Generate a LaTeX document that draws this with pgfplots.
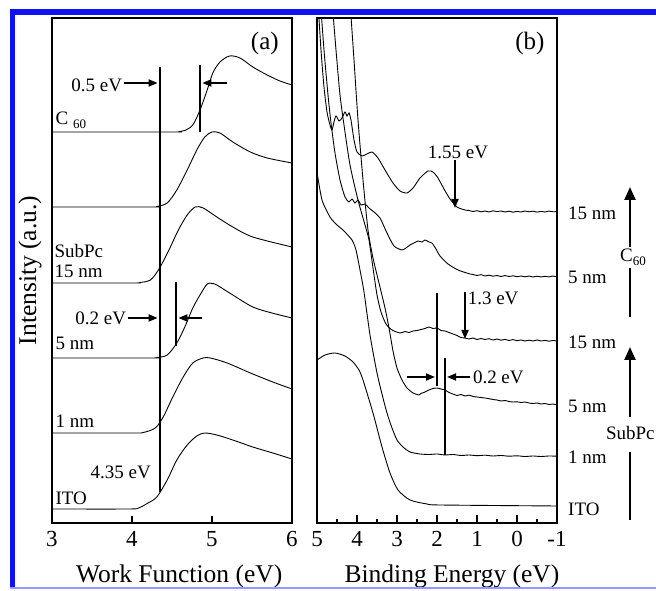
\documentclass[border=0pt]{standalone}
\usepackage{fontspec}
\setmainfont{Liberation Serif}
\usepackage{pgfplots}
\pgfplotsset{compat=1.18}
\usetikzlibrary{arrows.meta}

\newcommand\lbl{\fontsize{19}{21}\selectfont}
\newcommand\tik{\fontsize{23}{25}\selectfont}
\newcommand\axl{\fontsize{25.5}{28}\selectfont}
\newcommand\pnl{\fontsize{25}{27}\selectfont}
\definecolor{frameblue}{RGB}{16,16,245}
\definecolor{framelight}{RGB}{150,150,255}

\tikzset{
  ann/.style={-{Triangle[length=9pt,width=7pt]}, line width=1.8pt},
  mark line/.style={line width=2.6pt},
  bigarrow/.style={-{Triangle[length=13pt,width=11pt]}, line width=2.4pt},
}

\pgfplotsset{
  panel/.style={
    scale only axis, width=240pt, height=505pt,
    ymin=0, ymax=505, ytick=\empty,
    axis line style={line width=2.2pt},
    xtick pos=left, tick align=inside,
    major tick length=7pt, minor tick length=4pt,
    tick style={black, line width=1.4pt},
    /pgf/number format/assume math mode=true,
    xticklabel style={font=\tik, yshift=-5pt},
    clip mode=individual,
    every axis plot/.append style={black, line width=0.9pt, no markers},
  },
}

\begin{document}
\begin{tikzpicture}
\path[use as bounding box] (0pt,0pt) rectangle (656pt,591pt);
\clip (0pt,0pt) rectangle (656pt,591pt);

% ---------------- (a) work function spectra ----------------
\begin{axis}[panel, at={(52pt,68pt)}, anchor=south west,
  xmin=3, xmax=6, xtick={3,4,5,6},
  xlabel={Work Function (eV)},
  xlabel style={font=\axl, at={(axis description cs:0.53,-0.117)}, anchor=base},
  ylabel={Intensity (a.u.)},
  ylabel style={font=\axl, at={(axis description cs:-0.092,0.5)}, anchor=center}]

% C60 15 nm
\addplot[smooth, tension=0.5] coordinates {
(3,391) (4.5,391) (4.6,391.5) (4.66,392.5) (4.76,398) (4.85,413) (4.94,433)
(5.01,450) (5.10,461) (5.22,467) (5.35,465) (5.51,456) (5.69,448) (5.85,442) (6.00,438)};
% C60 5 nm
\addplot[smooth, tension=0.5] coordinates {
(3,316) (4.2,316) (4.31,316.5) (4.44,320) (4.56,333) (4.69,353) (4.81,373)
(4.91,386) (5.00,391) (5.10,390) (5.26,381) (5.48,371) (5.69,365) (6.00,360)};
% SubPc 15 nm
\addplot[smooth, tension=0.5] coordinates {
(3,240) (4.0,240) (4.10,240.5) (4.23,243) (4.33,253) (4.45,271) (4.58,293)
(4.69,308) (4.79,316) (4.89,315) (5.06,306) (5.26,296) (5.51,286) (6.00,276)};
% SubPc 5 nm
\addplot[smooth, tension=0.5] coordinates {
(3,165) (4.2,165) (4.31,165.5) (4.44,168) (4.56,180) (4.66,196) (4.76,215)
(4.85,228) (4.94,239) (5.0,239.5) (5.06,238) (5.26,228) (5.51,216) (5.75,210) (6.00,205)};
% SubPc 1 nm
\addplot[smooth, tension=0.5] coordinates {
(3,90) (4.0,90) (4.14,90.5) (4.29,95) (4.39,106) (4.51,126) (4.64,146)
(4.76,160) (4.89,165) (4.98,165) (5.19,160) (5.48,150) (5.76,141) (6.00,134)};
% ITO
\addplot[smooth, tension=0.5] coordinates {
(3,14) (3.95,14) (4.08,15) (4.20,20) (4.31,26) (4.44,43) (4.56,63) (4.69,78)
(4.81,87) (4.91,90) (5.06,88) (5.26,83) (5.51,76) (5.76,70) (6.00,64)};

% work-function markers
\draw[mark line] (axis cs:4.35,456) -- (axis cs:4.35,31);
\draw[mark line] (axis cs:4.85,458) -- (axis cs:4.85,391);
\draw[mark line] (axis cs:4.55,241) -- (axis cs:4.55,177);
\draw[ann] (axis cs:3.90,440) -- (axis cs:4.32,440);
\draw[ann] (axis cs:5.19,440) -- (axis cs:4.88,440);
\draw[ann] (axis cs:3.95,205) -- (axis cs:4.32,205);
\draw[ann] (axis cs:4.88,205) -- (axis cs:4.58,205);

\node[font=\pnl] at (axis cs:5.66,480) {(a)};
\node[font=\lbl, anchor=base east, inner sep=1pt] at (axis cs:3.89,431) {0.5 eV};
\node[font=\lbl, anchor=base east, inner sep=1pt] at (axis cs:3.94,198) {0.2 eV};
\node[font=\lbl, anchor=base west, inner sep=1pt] at (axis cs:3.03,398)
  {C {\fontsize{13}{13}\selectfont\raisebox{-4pt}{60}}};
\node[font=\lbl, anchor=base west, inner sep=0pt] at (axis cs:3.03,265) {SubPc};
\node[font=\lbl, anchor=base west, inner sep=0pt] at (axis cs:3.03,245) {15 nm};
\node[font=\lbl, anchor=base west, inner sep=1pt] at (axis cs:3.03,173) {5 nm};
\node[font=\lbl, anchor=base west, inner sep=1pt] at (axis cs:3.03,95) {1 nm};
\node[font=\lbl, anchor=base west, inner sep=1pt] at (axis cs:3.03,18) {ITO};
\node[font=\lbl, anchor=base east, inner sep=1pt] at (axis cs:4.25,44) {4.35 eV};
\end{axis}

% ---------------- (b) valence band spectra ----------------
\begin{axis}[panel, at={(317pt,68pt)}, anchor=south west,
  xmin=-1, xmax=5, x dir=reverse,
  xtick={5,4,3,2,1,0,-1}, xticklabels={5,4,3,2,1,0,-1},
  minor xtick={4.5,3.5,2.5,1.5,0.5,-0.5},
  major tick length=8pt,
  xlabel={Binding Energy (eV)},
  xlabel style={font=\axl, at={(axis description cs:0.5625,-0.117)}, anchor=base}]

% C60 15 nm
\addplot[smooth, tension=0.4] coordinates {
(4.99,530) (4.9,473) (4.825,436) (4.75,411) (4.675,398) (4.625,393) (4.575,401)
(4.525,407) (4.45,402) (4.375,405) (4.3,411) (4.25,407) (4.2,410) (4.15,403)
(4.075,383) (4.0,371) (3.875,367) (3.75,369) (3.625,371) (3.475,365) (3.3,353)
(3.1,340) (2.925,332) (2.75,330) (2.6,335) (2.425,345) (2.225,352) (2.1,351)
(1.975,345) (1.825,334) (1.675,324) (1.5,316) (1.3,313) (1.2,312.5) (1.1,311.5)
(1.0,312.3) (0.9,311.2) (0.8,312) (0.7,311) (0.6,312.2) (0.5,311.4) (0.4,312)
(0.3,311) (0.2,311.8) (0.1,310.8) (0,311.6) (-0.1,311) (-0.2,312) (-0.3,311.2)
(-0.4,311.8) (-0.5,310.9) (-0.6,311.6) (-0.7,311) (-0.8,311.9) (-0.9,311.2) (-1,311.5)};
% C60 5 nm
\addplot[smooth, tension=0.4] coordinates {
(4.93,530) (4.825,473) (4.725,428) (4.65,400) (4.55,370) (4.425,343) (4.3,326)
(4.2,321) (4.125,324) (4.05,320) (3.975,323) (3.9,318) (3.8,319) (3.7,315)
(3.575,311) (3.425,305) (3.25,290) (3.075,277) (2.875,273) (2.775,275) (2.675,278)
(2.575,280) (2.475,282) (2.375,281) (2.3,283) (2.2,281) (2.125,280) (2.025,274)
(1.925,267) (1.725,259) (1.475,253) (1.175,249) (1.1,248.5) (1.0,247.5) (0.9,248.3)
(0.8,247) (0.7,247.8) (0.6,246.8) (0.5,247.5) (0.4,246.5) (0.3,247.4) (0.2,246.5)
(0.1,247.2) (0,246.3) (-0.1,247) (-0.2,246.2) (-0.3,247) (-0.4,246) (-0.5,246.8)
(-0.6,246) (-0.7,246.7) (-0.8,246.1) (-0.9,247) (-1,246)};
% SubPc 15 nm
\addplot[smooth, tension=0.4] coordinates {
(4.64,530) (4.525,473) (4.425,428) (4.325,398) (4.175,358) (3.975,323) (3.8,298)
(3.7,283) (3.6,255) (3.5,228) (3.4,211) (3.275,199) (3.125,193) (2.925,190)
(2.8,191.5) (2.7,190.5) (2.6,192) (2.5,192.5) (2.4,193.5) (2.3,194.5) (2.2,196)
(2.1,194.5) (2.0,195) (1.9,192.5) (1.8,192) (1.7,190.5) (1.6,189) (1.5,187.5)
(1.4,185.5) (1.3,185) (1.2,184) (1.1,185) (1.0,183.5) (0.9,184.5) (0.8,183.5)
(0.7,184.3) (0.6,183) (0.5,184) (0.4,182.8) (0.3,183.6) (0.2,182.5) (0.1,183.4)
(0,182.3) (-0.1,183) (-0.2,182) (-0.3,182.8) (-0.4,182) (-0.5,183) (-0.6,182)
(-0.7,182.6) (-0.8,181.8) (-0.9,182.5) (-1,182)};
% SubPc 5 nm
\addplot[smooth, tension=0.4] coordinates {
(4.19,530) (4.075,463) (3.975,403) (3.85,343) (3.725,293) (3.6,265) (3.45,240)
(3.3,215) (3.2,195) (3.1,172) (3.0,155) (2.875,143) (2.75,135) (2.6,130)
(2.5,128.5) (2.45,128) (2.4,129.5) (2.3,131) (2.2,133) (2.1,134.5) (2.0,135)
(1.9,134) (1.8,133) (1.7,130.5) (1.6,129) (1.5,127.5) (1.4,128.5) (1.3,127)
(1.2,127.8) (1.1,126.5) (1.0,126) (0.9,125.5) (0.8,125) (0.7,124.3) (0.6,123.5)
(0.5,123) (0.4,122) (0.3,122.5) (0.2,121.5) (0.1,121) (0,121.2) (-0.1,120.5)
(-0.2,121) (-0.3,120) (-0.4,119.5) (-0.5,120) (-0.6,119) (-0.7,119.5) (-0.8,118.5)
(-0.9,119) (-1,118)};
% SubPc 1 nm
\addplot[smooth, tension=0.4] coordinates {
(5.0,351) (4.875,323) (4.675,306) (4.5,298) (4.35,293) (4.125,283) (4.025,273)
(3.925,253) (3.825,231) (3.675,188) (3.5,150) (3.35,125) (3.25,110) (3.125,95)
(3.0,83) (2.85,76) (2.675,71) (2.425,69) (2.2,68.5) (2.0,69) (1.8,68) (1.6,68.5)
(1.4,67.5) (1.2,68) (1.0,67.3) (0.8,67.8) (0.6,67) (0.4,67.5) (0.2,66.8) (0,67.2)
(-0.2,66.5) (-0.4,67) (-0.6,66.5) (-0.8,67) (-1,66.8)};
% ITO
\addplot[smooth, tension=0.4] coordinates {
(5.0,163) (4.8,168) (4.55,170) (4.3,167) (4.1,161) (3.95,153) (3.85,143)
(3.6,110) (3.375,76) (3.175,50) (2.975,33) (2.675,23) (2.25,19) (1.925,18) (-1,17)};

% onset markers
\draw[ann] (axis cs:1.55,363) -- (axis cs:1.55,315);
\draw[ann] (axis cs:1.3,231) -- (axis cs:1.3,184);
\draw[mark line] (axis cs:2.0,230) -- (axis cs:2.0,137);
\draw[mark line] (axis cs:1.8,165) -- (axis cs:1.8,68);
\draw[ann] (axis cs:2.75,146) -- (axis cs:2.05,146);
\draw[ann] (axis cs:1.17,146) -- (axis cs:1.75,146);

\node[font=\pnl] at (axis cs:-0.325,480) {(b)};
\node[font=\lbl] at (axis cs:1.475,371) {1.55 eV};
\node[font=\lbl, anchor=west, inner sep=1pt] at (axis cs:1.26,225) {1.3 eV};
\node[font=\lbl, anchor=west, inner sep=1pt] at (axis cs:1.13,146) {0.2 eV};

% thickness labels
\node[font=\lbl, anchor=west, inner sep=1pt] at (axis cs:-1.25,310) {15 nm};
\node[font=\lbl, anchor=west, inner sep=1pt] at (axis cs:-1.25,246) {5 nm};
\node[font=\lbl, anchor=west, inner sep=1pt] at (axis cs:-1.25,181) {15 nm};
\node[font=\lbl, anchor=west, inner sep=1pt] at (axis cs:-1.25,117) {5 nm};
\node[font=\lbl, anchor=west, inner sep=1pt] at (axis cs:-1.25,66) {1 nm};
\node[font=\lbl, anchor=west, inner sep=1pt] at (axis cs:-1.25,14) {ITO};

% deposition sequence arrows
\draw[line width=2.4pt] (axis cs:-2.825,206) -- (axis cs:-2.825,255);
\draw[bigarrow] (axis cs:-2.825,276) -- (axis cs:-2.825,336);
\node[font=\lbl] at (axis cs:-2.9,266)
  {C\raisebox{-4pt}{\fontsize{13}{13}\selectfont 60}};
\draw[line width=2.4pt] (axis cs:-2.825,3) -- (axis cs:-2.825,71);
\draw[bigarrow] (axis cs:-2.825,106) -- (axis cs:-2.825,176);
\node[font=\lbl, anchor=west, inner sep=0pt] at (axis cs:-2.22,90) {SubPc};
\end{axis}

% outer frame
\fill[frameblue] (10pt,576pt) rectangle (660pt,582pt);
\fill[frameblue] (10pt,2pt) rectangle (15pt,582pt);
\draw[framelight, line width=1.5pt] (10pt,3pt) -- (660pt,3pt);
\end{tikzpicture}
\end{document}
